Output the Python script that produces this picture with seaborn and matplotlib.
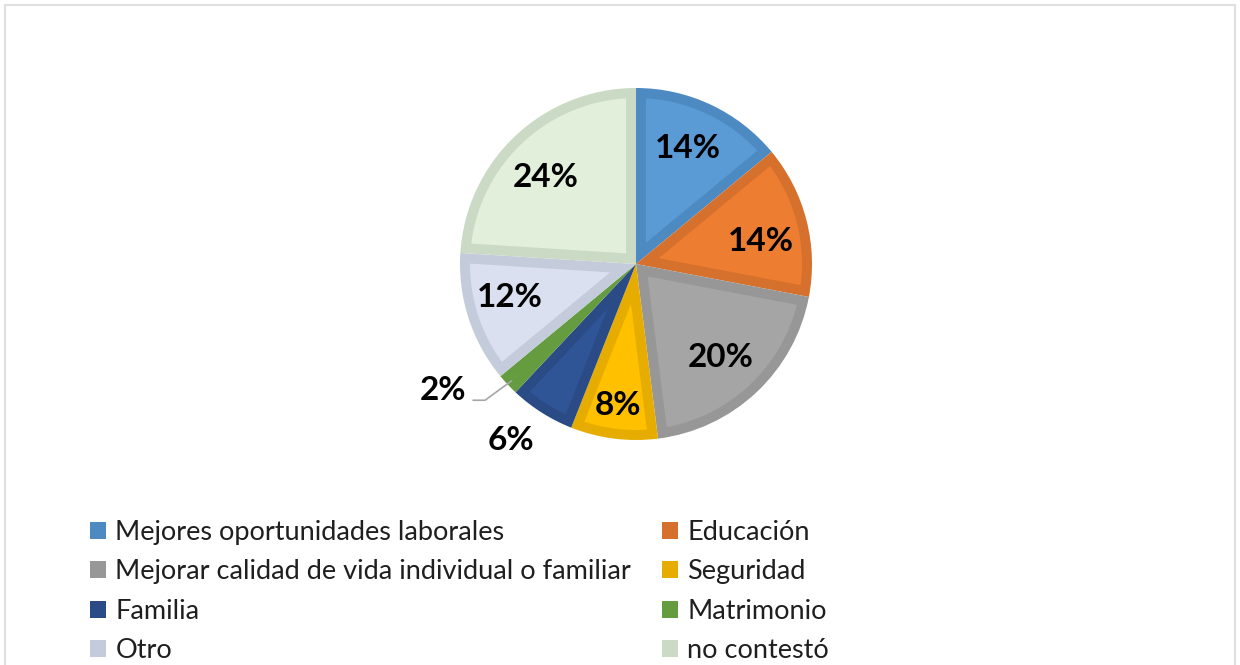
import numpy as np
import matplotlib
matplotlib.use("Agg")
import matplotlib.pyplot as plt
from matplotlib.patches import Rectangle, Polygon
import seaborn as sns

categories = ["Mejores oportunidades laborales", "Educación",
              "Mejorar calidad de vida individual o familiar", "Seguridad",
              "Familia", "Matrimonio", "Otro", "no contestó"]
values = [14, 14, 20, 8, 6, 2, 12, 24]
labels = ["14%", "14%", "20%", "8%", "6%", "2%", "12%", "24%"]

fills = ["#5B9BD5", "#ED7D31", "#A5A5A5", "#FFC000",
         "#2F5597", "#70AD47", "#DAE0F0", "#E2EFDA"]
edges = ["#4E8AC2", "#D5712C", "#979797", "#E6AD00",
         "#2A4B86", "#659C40", "#C4CBDA", "#CBDAC4"]
label_r = [0.72, 0.72, 0.72, 0.81, 1.23, 1.31, 0.74, 0.71]
label_da = [1, -4, -1, 0, -3, -10, -3, 3]

sns.set_theme(style="white")
plt.rcParams["font.family"] = ["Lato", "DejaVu Sans"]

W, H = 1240, 665
cx, cy, R = 636, 264, 176
fig = plt.figure(figsize=(W / 100, H / 100), dpi=100)
ax = fig.add_axes([0, 0, 1, 1])

# outer pie in the border colour
wedges, _ = ax.pie(values, colors=edges, startangle=90, counterclock=False,
                   radius=1, center=(0, 0), frame=True,
                   wedgeprops=dict(linewidth=0))
ax.set_xlim(-cx / R, (W - cx) / R)
ax.set_ylim((cy - H) / R, cy / R)
ax.set_aspect("equal")
ax.axis("off")

# inset fill for each wedge
d = 10 / R
for w, fc in zip(wedges, fills):
    a1, a2 = np.deg2rad(w.theta1), np.deg2rad(w.theta2)
    span = a2 - a1
    rin = 1 - d
    apex = d / np.sin(span / 2)
    if apex >= rin * 0.98:
        continue
    off = np.arcsin(d / rin)
    bis = (a1 + a2) / 2
    arc = np.linspace(a1 + off, a2 - off, 60)
    pts = [(apex * np.cos(bis), apex * np.sin(bis))]
    pts += list(zip(rin * np.cos(arc), rin * np.sin(arc)))
    ax.add_patch(Polygon(pts, closed=True, facecolor=fc, edgecolor="none"))

cum = np.cumsum([0] + values[:-1])
for i, (v, lab) in enumerate(zip(values, labels)):
    mid = 90 - 360 * (cum[i] + v / 2) / sum(values)
    ang = np.deg2rad(mid + label_da[i])
    x, y = label_r[i] * np.cos(ang), label_r[i] * np.sin(ang)
    ax.text(x, y, lab, ha="center", va="center", fontsize=24,
            fontweight="bold", color="black")
    if lab == "2%":
        m = np.deg2rad(mid)
        ex, ey = 0.97 * np.cos(m), 0.97 * np.sin(m)
        ax.plot([x + 30 / R, x + 42 / R, ex], [y - 10 / R, y - 10 / R, ey],
                color="#A6A6A6", lw=1.2)

left = [0, 2, 4, 6]
right = [1, 3, 5, 7]
for idx, x0 in [(left, 90), (right, 662)]:
    handles = [Rectangle((0, 0), 1, 1, facecolor=edges[i], edgecolor="none") for i in idx]
    leg = fig.legend(handles, [categories[i] for i in idx], ncol=1,
                     loc="upper left", bbox_to_anchor=(x0 / W, 1 - 520 / H),
                     frameon=False, fontsize=19.5, handlelength=0.58, handleheight=0.58,
                     handletextpad=0.36, labelspacing=0.53,
                     borderaxespad=0, borderpad=0)
    for t in leg.get_texts():
        t.set_color("#1F1F1F")

fig.patches.append(Rectangle((5 / W, -0.05), 1230 / W, 1 - 5 / H + 0.05,
                             transform=fig.transFigure, fill=False,
                             edgecolor="#D9D9D9", lw=1.2))

fig.savefig("out.png", dpi=100)
